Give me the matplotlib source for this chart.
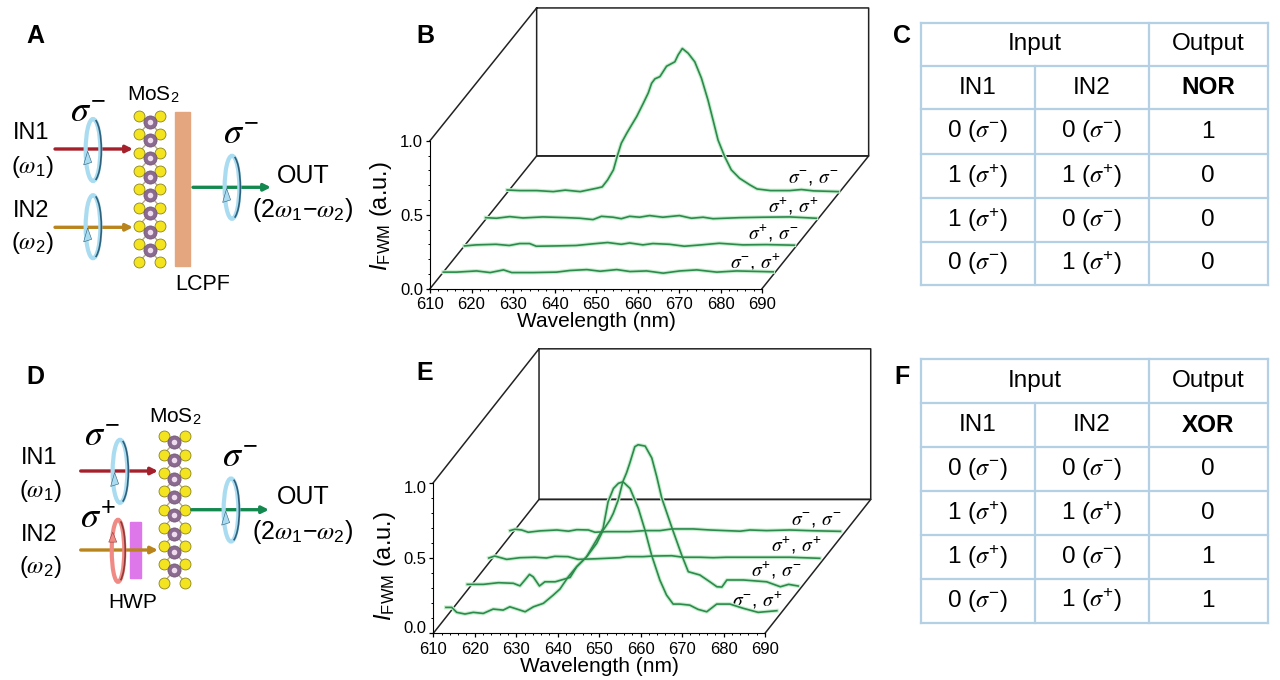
import matplotlib
matplotlib.use('Agg')
import matplotlib.pyplot as plt
from matplotlib.patches import Ellipse, Arc, Polygon, Rectangle
from matplotlib.ticker import MultipleLocator
from matplotlib.transforms import ScaledTranslation

plt.rcParams['font.family'] = ['Liberation Sans', 'DejaVu Sans']
plt.rcParams['mathtext.fontset'] = 'custom'
plt.rcParams['mathtext.rm'] = 'Liberation Sans'
plt.rcParams['mathtext.it'] = 'STIXGeneral:italic'
plt.rcParams['mathtext.bf'] = 'Liberation Sans:bold'
plt.rcParams['mathtext.sf'] = 'Liberation Sans:italic'

# panel B spectra, back to front
b_wl_mm = [610, 613, 617.1, 621.1, 624, 627.6, 631.6, 632.9, 634.2, 635.6, 636.6, 637.5, 638.8, 640, 641.2,
           642.8, 644, 644.8, 645.6, 646.8, 648.4, 650.4, 651.2, 652.2, 653.6, 655.2, 656.8, 658.4, 659.6,
           660.8, 662.4, 664, 666, 668.5, 670.2, 673.4, 676, 678.1, 680.9, 683.8, 689.8]
b_i_mm = [.034, .03, .03, .023, .033, .023, .046, .055, .102, .17, .27, .35, .417, .474, .53,
          .62, .69, .755, .785, .80, .87, .90, .947, .99, .958, .90, .79, .64, .507,
          .372, .26, .17, .113, .068, .041, .03, .03, .03, .037, .028, .023]
b_wl_pp = [610, 612.6, 615.8, 619, 623.8, 629.4, 632.7, 635.9, 637.9, 640.7, 642.7, 644.7, 647.1, 649.5, 652.7,
           656.7, 659.6, 662.4, 664.8, 671.2, 676.8, 683.3, 689.7]
b_i_pp = [.032, .028, .039, .03, .037, .032, .028, .019, .041, .035, .025, .041, .035, .046, .035,
          .046, .028, .035, .025, .032, .035, .037, .028]
b_wl_pm = [610, 612.8, 617.6, 620.8, 623.3, 625.7, 627.3, 632.1, 636.9, 640.9, 644.5, 647.8, 649.8, 653, 655.4,
           659.4, 663, 667, 671.4, 677.1, 682.7, 689.5]
b_i_pm = [.03, .037, .041, .033, .046, .046, .028, .03, .033, .044, .053, .041, .05, .037, .046,
          .041, .028, .037, .048, .037, .039, .035]
b_wl_mp = [610, 613.2, 618, 621.3, 624.5, 626.5, 631.7, 637.3, 640.5, 644.6, 647.8, 651.8, 655, 659, 663,
           667, 671.1, 675.9, 680.7, 689.5]
b_i_mp = [.033, .033, .041, .03, .048, .03, .03, .033, .044, .05, .039, .05, .037, .041, .026,
          .041, .048, .033, .041, .035]

# panel E spectra, back to front
e_wl_mm = [610, 611.2, 612.8, 614.4, 617.2, 621.3, 624.1, 626.1, 628.9, 630.5, 633.3, 638.9, 642.6, 646.2, 649,
           654.2, 658.2, 665.5, 667.9, 671.9, 677.5, 683, 689.7]
e_i_mm = [.037, .046, .041, .026, .035, .041, .033, .043, .041, .026, .03, .03, .037, .037, .048,
          .048, .041, .033, .041, .037, .041, .036, .032]
e_wl_pp = [610, 611.4, 614.3, 617.5, 621.1, 623.9, 625.9, 629.1, 631.5, 636, 641.6, 643.2, 647.2, 649.6, 654.1,
           656.9, 660.9, 664.1, 667.3, 674.6, 682.6, 689.8]
e_i_pp = [.032, .045, .023, .034, .037, .032, .043, .041, .023, .027, .034, .041, .041, .045, .047,
          .037, .037, .034, .037, .037, .037, .03]
e_wl_pm = [610, 613.9, 617.5, 621.1, 622.7, 623.9, 625, 625.9, 627.4, 628.7, 631.2, 633.2, 634.8, 636.4, 638.8,
           641.2, 642.8, 644.4, 645.2, 646.4, 647.5, 648.4, 649.2, 650.4, 651.2, 652.9, 654.5, 655.7, 656.9,
           659.3, 661.7, 663.3, 666.1, 668.5, 670.2, 671.4, 672.6, 676.6, 682.2, 685.5, 687.5, 689.8]
e_i_pm = [.03, .03, .041, .037, .02, .059, .096, .08, .019, .047, .047, .063, .076, .147, .213,
          .302, .391, .457, .501, .59, .711, .77, .836, .944, .957, .948, .869, .744, .603,
          .41, .225, .114, .092, .047, .014, .012, .059, .059, .047, .014, .03, .019]
e_wl_mp = [610, 611.4, 612.6, 614.6, 616.6, 619, 621.4, 623.8, 625.4, 627.1, 629.1, 631.1, 633.5, 635.9, 637.5,
           639.5, 641.5, 643.9, 646.3, 647.9, 649.1, 650.4, 651.6, 652.7, 654.4, 656.4, 658, 659.6, 661.6,
           663.2, 664.8, 666.4, 668.8, 670.8, 672.9, 675.3, 678.5, 681.7, 685.3, 689.8]
e_i_mp = [.059, .059, .026, .015, .026, .019, .048, .041, .063, .048, .03, .063, .086, .141, .181,
          .262, .329, .395, .506, .584, .76, .849, .883, .893, .849, .717, .572, .406, .24,
          .141, .081, .081, .074, .046, .03, .081, .081, .053, .026, .037]

trace_labels = [r'$\sigma^{-}$, $\sigma^{-}$', r'$\sigma^{+}$, $\sigma^{+}$',
                r'$\sigma^{+}$, $\sigma^{-}$', r'$\sigma^{-}$, $\sigma^{+}$']
x_ticks = [610, 620, 630, 640, 650, 660, 670, 680, 690]
y_ticks = [0.0, 0.5, 1.0]

# truth tables
in1_states = [0, 1, 1, 0]
in2_states = [0, 1, 0, 1]
nor_out = [1, 0, 0, 0]
xor_out = [0, 0, 1, 1]
state_text = {0: r'0 ($\sigma^{-}$)', 1: r'1 ($\sigma^{+}$)'}

TRACE = '#2c8a4c'
GLOW = '#c6eecd'

fig = plt.figure(figsize=(12.8, 6.8), dpi=100)
bg = fig.add_axes([0, 0, 1, 1])
bg.set_xlim(0, 1280)
bg.set_ylim(680, 0)
bg.axis('off')


def px_axes(left, top, right, bottom):
    ax = fig.add_axes([left / 1280, 1 - bottom / 680, (right - left) / 1280, (bottom - top) / 680])
    ax.patch.set_alpha(0)
    return ax


def waterfall(ax, spectra, shift_x, shift_y, back_dx, back_dy, label_pad):
    ax.set_xlim(610, 690)
    ax.set_ylim(0, 1)
    ax.spines['top'].set_visible(False)
    ax.spines['right'].set_visible(False)
    ax.set_xticks(x_ticks)
    ax.set_yticks(y_ticks)
    ax.set_yticklabels(['0.0', '0.5', '1.0'])
    ax.xaxis.set_minor_locator(MultipleLocator(2))
    ax.yaxis.set_minor_locator(MultipleLocator(0.1))
    ax.tick_params(which='major', length=3, width=0.9, labelsize=12, pad=2)
    ax.tick_params(which='minor', length=1.5, width=0.7)
    ax.tick_params(axis='x', pad=3)
    # back wall and floor
    wall_x = [610, 610 + back_dx, 690 + back_dx, 690 + back_dx, 610 + back_dx, 610 + back_dx]
    wall_y = [1, 1 + back_dy, 1 + back_dy, back_dy, back_dy, 1 + back_dy]
    ax.plot(wall_x, wall_y, color='#222222', lw=1.1, clip_on=False, zorder=1)
    floor_x = [610, 610 + back_dx, 690 + back_dx, 690]
    floor_y = [0, back_dy, back_dy, 0]
    ax.plot(floor_x, floor_y, color='#222222', lw=1.1, clip_on=False, zorder=1)
    for (wl, inten), sx, sy in zip(spectra, shift_x, shift_y):
        xs = [w + sx for w in wl]
        ys = [v + sy for v in inten]
        ax.plot(xs, ys, color=GLOW, lw=2.8, clip_on=False, zorder=2, solid_joinstyle='round')
    for (wl, inten), sx, sy in zip(spectra, shift_x, shift_y):
        xs = [w + sx for w in wl]
        ys = [v + sy for v in inten]
        ax.plot(xs, ys, color=TRACE, lw=1.2, clip_on=False, zorder=3, solid_joinstyle='round')
    ax.set_xlabel('Wavelength (nm)', fontsize=15, labelpad=label_pad)


def ring(cx, cy, w, h, light, dark):
    bg.add_patch(Ellipse((cx, cy), w, h, fill=False, ec=light, lw=3, zorder=4))
    bg.add_patch(Arc((cx, cy), w + 2, h + 1, theta1=-85, theta2=85, ec=dark, lw=1.2, zorder=5))
    if light == '#f08a85':
        tip = [(cx - w / 2 + 1, cy - h * 0.30), (cx - w / 2 - 3, cy - h * 0.14), (cx - w / 2 + 5, cy - h * 0.14)]
    else:
        tip = [(cx - w / 2 + 2, cy + h * 0.02), (cx - w / 2 - 2, cy + h * 0.24), (cx - w / 2 + 6, cy + h * 0.20)]
    bg.add_patch(Polygon(tip, fc=light, ec=dark, lw=0.4, zorder=5))


def arrow(x0, x1, y, color):
    bg.annotate('', xy=(x1, y), xytext=(x0, y), zorder=4,
                arrowprops=dict(arrowstyle='-|>', color=color, lw=2.4, mutation_scale=10, shrinkA=0, shrinkB=0))


def mos2(x_mid, y_top):
    y_yellow = [y_top + 18.3 * i for i in range(9)]
    y_purple = [y + 5.8 for y in y_yellow[:-1]]
    for y in y_purple:
        for sx in (-1, 1):
            bg.plot([x_mid, x_mid + sx * 10.5], [y, y - 6], color='#b9a98a', lw=1, zorder=2)
            bg.plot([x_mid, x_mid + sx * 10.5], [y, y + 12], color='#b9a98a', lw=1, zorder=2)
    for sx in (-10.5, 10.5):
        bg.scatter([x_mid + sx] * 9, y_yellow, s=62, color='#f4e31f', ec='#8a8420', lw=0.6, zorder=3)
    bg.scatter([x_mid] * 8, y_purple, s=90, color='#8b6a90', ec='#6d5372', lw=0.5, zorder=3)
    bg.scatter([x_mid] * 8, y_purple, s=16, color='#efdcef', lw=0, zorder=3)


def table(out_name, out_vals, top_rows):
    cols = [920.7, 1034.7, 1148.5, 1267.7]
    line = '#b4d0e4'
    for y in top_rows:
        bg.plot([cols[0], cols[3]], [y, y], color=line, lw=1.6, zorder=1)
    for x in (cols[0], cols[2], cols[3]):
        bg.plot([x, x], [top_rows[0], top_rows[-1]], color=line, lw=1.6, zorder=1)
    bg.plot([cols[1], cols[1]], [top_rows[1], top_rows[-1]], color=line, lw=1.6, zorder=1)

    def mid(i):
        return (top_rows[i] + top_rows[i + 1]) / 2

    fs = 17.5
    bg.text((cols[0] + cols[2]) / 2, mid(0), 'Input', fontsize=fs, ha='center', va='center')
    bg.text((cols[2] + cols[3]) / 2, mid(0), 'Output', fontsize=fs, ha='center', va='center')
    bg.text((cols[0] + cols[1]) / 2, mid(1), 'IN1', fontsize=fs, ha='center', va='center')
    bg.text((cols[1] + cols[2]) / 2, mid(1), 'IN2', fontsize=fs, ha='center', va='center')
    bg.text((cols[2] + cols[3]) / 2, mid(1), out_name, fontsize=fs, fontweight='bold', ha='center', va='center')
    for i, (a, b, o) in enumerate(zip(in1_states, in2_states, out_vals)):
        bg.text((cols[0] + cols[1]) / 2, mid(i + 2), state_text[a], fontsize=fs, ha='center', va='center')
        bg.text((cols[1] + cols[2]) / 2, mid(i + 2), state_text[b], fontsize=fs, ha='center', va='center')
        bg.text((cols[2] + cols[3]) / 2, mid(i + 2), str(o), fontsize=fs, ha='center', va='center')


def label(x, y, s, size=17, **kw):
    bg.text(x, y, s, fontsize=size, ha='center', va='center', zorder=6, **kw)


BLUE, NAVY = '#a9dcf0', '#2f5f7a'
PINK, MAROON = '#f08a85', '#8f3a3a'

# panel A
mos2(149.7, 116)
bg.add_patch(Rectangle((175.3, 112.3), 14.7, 153.7, color='#e3a67f', zorder=2))
arrow(55, 133, 149, '#a5202a')
arrow(55, 133, 227.3, '#b9841c')
arrow(193, 271, 187.3, '#14894f')
ring(93, 150, 14.7, 62, BLUE, NAVY)
ring(93, 226.7, 14.7, 63, BLUE, NAVY)
ring(232, 187.3, 14.7, 63, BLUE, NAVY)
label(35, 36, 'A', 18, fontweight='bold')
label(153, 95, r'MoS$_{2}$', 15)
label(88, 112, r'$\sigma^{-}$', 26)
label(241, 135, r'$\sigma^{-}$', 26)
label(31, 133, 'IN1')
label(32, 167, r'($\omega_{1}$)')
label(31, 211, 'IN2')
label(32, 243, r'($\omega_{2}$)')
label(303, 176, 'OUT', 18)
label(303, 210, r'(2$\omega_{1}$$-$$\omega_{2}$)', 18)
label(203, 285, 'LCPF', 15.5)

# panel D
mos2(174.4, 436.3)
bg.add_patch(Rectangle((130, 521.7), 10.7, 56, color='#dd77ea', zorder=2))
arrow(80.7, 158, 471, '#a5202a')
arrow(80.7, 158, 550, '#b9841c')
arrow(191.7, 269, 509.7, '#14894f')
ring(120, 471.3, 14.7, 63, BLUE, NAVY)
ring(118, 550.8, 12.5, 62, PINK, MAROON)
ring(231, 510, 14.7, 63, BLUE, NAVY)
label(35, 377, 'D', 18, fontweight='bold')
label(175, 416.5, r'MoS$_{2}$', 15)
label(101.7, 437, r'$\sigma^{-}$', 26)
label(98, 519, r'$\sigma^{+}$', 26)
label(240, 457.7, r'$\sigma^{-}$', 26)
label(39, 458, 'IN1')
label(40.7, 491, r'($\omega_{1}$)')
label(39, 535, 'IN2')
label(40.7, 566.7, r'($\omega_{2}$)')
label(303, 497.3, 'OUT', 18)
label(303, 531.7, r'(2$\omega_{1}$$-$$\omega_{2}$)', 18)
label(132.7, 603, 'HWP', 15)

# panels B and E
ax_b = px_axes(430, 140.7, 762, 288.7)
waterfall(ax_b, [(b_wl_mm, b_i_mm), (b_wl_pp, b_i_pp), (b_wl_pm, b_i_pm), (b_wl_mp, b_i_mp)],
          [18.6, 13.4, 8.3, 3.2], [.633, .448, .259, .079], 25.7, .897, 0)
ax_e = px_axes(433.3, 482.7, 765, 633.3)
waterfall(ax_e, [(e_wl_mm, e_i_mm), (e_wl_pp, e_i_pp), (e_wl_pm, e_i_pm), (e_wl_mp, e_i_mp)],
          [18.5, 13.4, 8.2, 3.05], [.645, .468, .295, .113], 25.5, .889, 0)
# the 0.0 and 1.0 labels of E sit inside the axis ends
for lab, dy in zip(ax_e.get_yticklabels(), [6, 0, -4]):
    lab.set_transform(lab.get_transform() + ScaledTranslation(0, dy / 100, fig.dpi_scale_trans))

label(425, 36, 'B', 18, fontweight='bold')
label(425, 373, 'E', 18, fontweight='bold')
bg.text(381, 216, r'$\mathsf{I}_{\mathrm{FWM}}$ (a.u.)', fontsize=17, rotation=90, ha='center', va='center')
bg.text(385, 566, r'$\mathsf{I}_{\mathrm{FWM}}$ (a.u.)', fontsize=17, rotation=90, ha='center', va='center')

for s, x, y in zip(trace_labels, [813, 793, 773, 755], [179, 206, 233, 262.7]):
    label(x, y, s, 14)
for s, x, y in zip(trace_labels, [816.7, 796.7, 776, 757], [521, 545, 570.7, 600]):
    label(x, y, s, 14)

# panels C and F
label(901.7, 36, 'C', 18, fontweight='bold')
label(901.7, 376.7, 'F', 18, fontweight='bold')
table('NOR', nor_out, [22.7, 65.7, 109.3, 153.7, 197.7, 241.7, 285])
table('XOR', xor_out, [359.3, 403, 447, 491, 535, 578.7, 622.7])

fig.savefig('out.png', dpi=100)
